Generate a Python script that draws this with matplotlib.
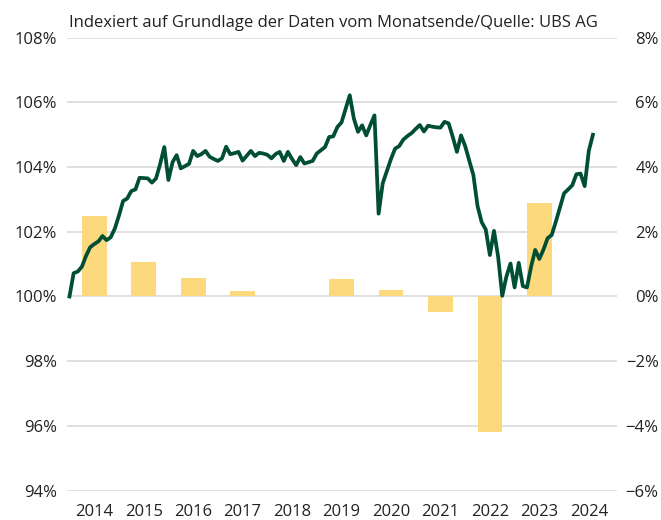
import numpy as np
import matplotlib
matplotlib.use('Agg')
import matplotlib.pyplot as plt
from matplotlib.ticker import FuncFormatter

# index at month end, Dec 2013 = 100 (Dec 2013 .. Jul 2024)
index_values = [
    100.00, 100.72, 100.77, 100.92, 101.25, 101.52, 101.62, 101.70, 101.87, 101.74,
    101.83, 102.10, 102.50, 102.95, 103.03, 103.26, 103.31, 103.67, 103.66, 103.65,
    103.52, 103.65, 104.10, 104.62, 103.60, 104.15, 104.37, 103.96, 104.03, 104.10,
    104.50, 104.34, 104.40, 104.50, 104.32, 104.25, 104.19, 104.27, 104.63, 104.40,
    104.43, 104.47, 104.20, 104.35, 104.50, 104.34, 104.44, 104.42, 104.38, 104.27,
    104.40, 104.47, 104.19, 104.47, 104.25, 104.06, 104.31, 104.11, 104.15, 104.19,
    104.42, 104.52, 104.62, 104.93, 104.95, 105.24, 105.38, 105.80, 106.22, 105.50,
    105.09, 105.29, 104.98, 105.30, 105.60, 102.56, 103.50, 103.88, 104.25, 104.57,
    104.65, 104.85, 104.96, 105.05, 105.18, 105.30, 105.10, 105.28, 105.25, 105.23,
    105.22, 105.40, 105.35, 104.93, 104.47, 104.98, 104.65, 104.20, 103.75, 102.80,
    102.30, 102.07, 101.28, 102.03, 101.23, 100.02, 100.61, 101.02, 100.28, 101.04,
    100.32, 100.28, 100.92, 101.44, 101.16, 101.45, 101.80, 101.90, 102.31, 102.75,
    103.19, 103.31, 103.44, 103.78, 103.80, 103.41, 104.50, 105.00,
]

# yearly change in % (right axis)
years = [2014, 2015, 2016, 2017, 2018, 2019, 2020, 2021, 2022, 2023, 2024]
yearly_change = [2.48, 1.07, 0.57, 0.17, 0.0, 0.54, 0.21, -0.47, -4.20, 2.88, 0.0]

left_ticks = [94, 96, 98, 100, 102, 104, 106, 108]
right_ticks = [-6, -4, -2, 0, 2, 4, 6, 8]

title = 'Indexiert auf Grundlage der Daten vom Monatsende/Quelle: UBS AG'

plt.rcParams['font.family'] = ['Open Sans', 'DejaVu Sans']
text_color = '#222222'
line_color = '#004e33'
bar_color = '#fdd97e'

fig = plt.figure(figsize=(6.61, 5.20), dpi=100)
rect = [0.1014, 0.0566, 0.832, 0.8709]
ax2 = fig.add_axes(rect, label='bars')   # right axis: bars + grid
ax = fig.add_axes(rect, label='index')   # left axis: line, drawn on top
ax.patch.set_visible(False)

# month-end positions as fractional years
months = np.arange(len(index_values))
x_line = 2014.0 + months / 12.0
x_bars = np.array(years) + 0.5

ax2.bar(x_bars, yearly_change, width=0.5, color=bar_color, zorder=2)
ax2.set_ylim(-6, 8)
ax2.set_yticks(right_ticks)
ax2.yaxis.tick_right()
ax2.yaxis.set_major_formatter(FuncFormatter(lambda v, p: f'{v:.0f}%'.replace('-', '\u2212')))
ax2.grid(axis='y', color='#d9d9d9', linewidth=1.2, zorder=0)
ax2.set_axisbelow(True)
ax2.tick_params(axis='y', length=0, pad=30, labelsize=12, labelcolor=text_color)
for lbl in ax2.get_yticklabels():
    lbl.set_horizontalalignment('right')

ax.plot(x_line, index_values, color=line_color, linewidth=2.7, zorder=3)
ax.set_ylim(94, 108)
ax.set_yticks(left_ticks)
ax.yaxis.set_major_formatter(FuncFormatter(lambda v, p: f'{v:.0f}%'))
ax.tick_params(axis='y', length=0, pad=7, labelsize=12, labelcolor=text_color)

for a in (ax, ax2):
    a.set_xlim(2013.95, 2025.07)
    for s in a.spines.values():
        s.set_visible(False)

ax2.set_xticks(x_bars)
ax2.set_xticklabels([str(y) for y in years])
ax2.tick_params(axis='x', length=0, pad=10, labelsize=12, labelcolor=text_color)
ax.tick_params(axis='x', bottom=False, labelbottom=False)

fig.text(69 / 661, 1 - 27 / 520, title, fontsize=12, color=text_color, ha='left', va='baseline')

fig.savefig('out.png', dpi=100)
